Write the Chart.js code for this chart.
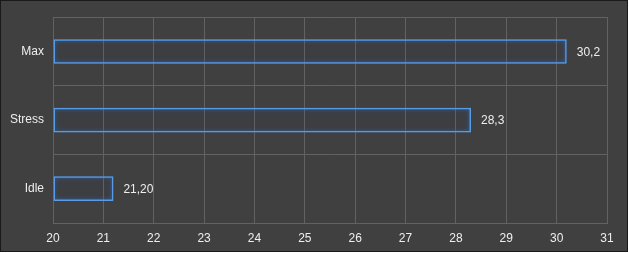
<!DOCTYPE html>
<html>
<head>
<meta charset="utf-8">
<script src="https://cdn.jsdelivr.net/npm/chart.js@4/dist/chart.umd.min.js"></script>
<style>
    html, body { margin: 0; padding: 0; background: #ffffff; }
    #box { position: absolute; left: 0; top: 0; width: 626px; height: 250px; border: 1px solid #1a1a1a; background: #404040; }
    #chart { display: block; }
</style>
</head>
<body>
<div id="box"><canvas id="chart" width="626" height="250"></canvas></div>
<script>
    // Chart data
    const categories = ['Max', 'Stress', 'Idle'];
    const values = [30.2, 28.3, 21.2];
    const valueLabels = ['30,2', '28,3', '21,20'];
    const xMin = 20;
    const xMax = 31;

    Chart.defaults.font.family = '"Liberation Sans", Arial, sans-serif';
    Chart.defaults.font.size = 12;
    Chart.defaults.color = '#eeeeee';

    // Blue glow around bar outlines
    const glowPlugin = {
        id: 'glow',
        beforeDatasetsDraw(chart) {
            const ctx = chart.ctx;
            ctx.save();
            ctx.shadowColor = 'rgba(40,120,230,0.9)';
            ctx.shadowBlur = 4;
        },
        afterDatasetsDraw(chart) {
            chart.ctx.restore();
        }
    };

    // Value labels to the right of each bar
    const valueLabelPlugin = {
        id: 'valueLabels',
        afterDatasetsDraw(chart) {
            const ctx = chart.ctx;
            const meta = chart.getDatasetMeta(0);
            ctx.save();
            ctx.font = '12px "Liberation Sans", Arial, sans-serif';
            ctx.fillStyle = '#eeeeee';
            ctx.textAlign = 'left';
            ctx.textBaseline = 'middle';
            meta.data.forEach((bar, i) => {
                ctx.fillText(valueLabels[i], bar.x + 10, bar.y + 1);
            });
            ctx.restore();
        }
    };

    new Chart(document.getElementById('chart'), {
        type: 'bar',
        data: {
            labels: categories,
            datasets: [{
                data: values,
                base: xMin,
                backgroundColor: 'rgba(0,0,0,0.02)',
                borderColor: '#5a9de6',
                borderWidth: 1.5,
                borderSkipped: false,
                categoryPercentage: 1,
                barPercentage: 0.36
            }]
        },
        options: {
            indexAxis: 'y',
            responsive: false,
            animation: false,
            layout: { padding: { top: 14, right: 20, left: 0, bottom: 0 } },
            plugins: {
                legend: { display: false },
                tooltip: { enabled: false }
            },
            scales: {
                x: {
                    min: xMin,
                    max: xMax,
                    ticks: { stepSize: 1, padding: 8, color: '#eeeeee' },
                    grid: { color: '#626262', drawTicks: false },
                    border: { color: '#626262' },
                    afterFit(scale) { scale.height = 28; }
                },
                y: {
                    ticks: { padding: 9, color: '#eeeeee' },
                    grid: { color: '#626262', drawTicks: false },
                    border: { color: '#626262' },
                    afterFit(scale) { scale.width = 52; }
                }
            }
        },
        plugins: [glowPlugin, valueLabelPlugin]
    });
</script>
</body>
</html>
